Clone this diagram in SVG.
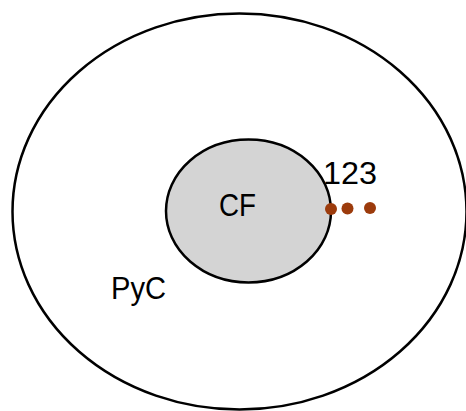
<svg xmlns="http://www.w3.org/2000/svg" width="466" height="411" viewBox="0 0 466 411">
<style>
.t{font-family:"Liberation Sans",Arial,sans-serif;font-size:32px;fill:#000}
.dot{fill:#9C3B0C}
</style>
<rect width="466" height="411" fill="#fff"/>
<g id="PyC">
<ellipse cx="239.5" cy="211.5" rx="227" ry="198" fill="#fff" stroke="#000" stroke-width="2.5"/>
<text class="t" x="111" y="299" textLength="55" lengthAdjust="spacingAndGlyphs">PyC</text>
</g>
<g id="CF">
<ellipse cx="248.5" cy="211" rx="82.5" ry="71.5" fill="#d4d4d4" stroke="#000" stroke-width="2.5"/>
<text class="t" x="219" y="216" textLength="37" lengthAdjust="spacingAndGlyphs">CF</text>
</g>
<g id="dots">
<text class="t" x="323" y="184" textLength="54" lengthAdjust="spacingAndGlyphs">123</text>
<circle class="dot" cx="331" cy="209" r="6"/>
<circle class="dot" cx="347.5" cy="208.5" r="6"/>
<circle class="dot" cx="370" cy="208" r="6"/>
</g>
<g id="connectors"/>
</svg>
